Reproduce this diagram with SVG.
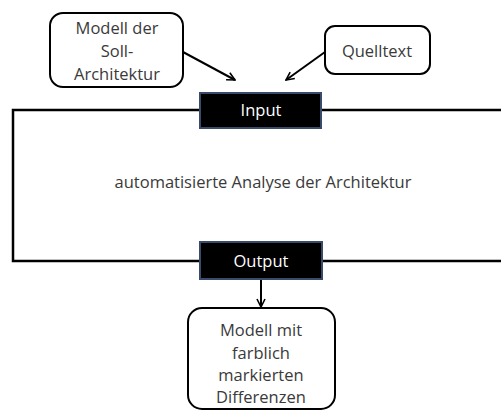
<svg xmlns="http://www.w3.org/2000/svg" width="501" height="414" viewBox="0 0 501 414">
  <style>
    .box { fill: #ffffff; stroke: #000000; stroke-width: 2; }
    .bar { fill: #000000; stroke: #3a4a6a; stroke-width: 2; }
    .txt { font-family: "Open Sans", "Liberation Sans", sans-serif; font-size: 16.5px; fill: #3a3a3a; text-anchor: middle; }
    .lbl { font-family: "Open Sans", "Liberation Sans", sans-serif; font-size: 16.5px; fill: #ffffff; text-anchor: middle; }
    .frame { fill: none; stroke: #000000; stroke-width: 2.5; }
    .conn { fill: none; stroke: #000000; stroke-width: 2; marker-end: url(#arrow); }
  </style>
  <defs>
    <marker id="arrow" viewBox="0 0 10 10" refX="9" refY="5" markerWidth="5" markerHeight="5" orient="auto" markerUnits="strokeWidth">
      <path d="M1,1 L9,5 L1,9" fill="none" stroke="#000000" stroke-width="1.6"/>
    </marker>
  </defs>

  <rect width="501" height="414" fill="#ffffff"/>

  <!-- process frame -->
  <g id="frame">
    <polyline class="frame" points="501,110 13,110 13,261 501,261"/>
    <text class="txt" x="263" y="188">automatisierte Analyse der Architektur</text>
  </g>

  <g id="connectors">
    <line class="conn" x1="183" y1="52" x2="235" y2="80"/>
    <line class="conn" x1="325" y1="52" x2="286" y2="80"/>
    <line class="conn" x1="261" y1="279" x2="261" y2="307"/>
  </g>

  <g id="soll-architektur">
    <rect class="box" x="50" y="13" width="133" height="74" rx="13"/>
    <text class="txt" x="117" y="34">Modell der</text>
    <text class="txt" x="117" y="57">Soll-</text>
    <text class="txt" x="117" y="80">Architektur</text>
  </g>

  <g id="quelltext">
    <rect class="box" x="325" y="26" width="105" height="48" rx="10"/>
    <text class="txt" x="377" y="57">Quelltext</text>
  </g>

  <g id="input">
    <rect class="bar" x="200" y="93" width="121" height="35"/>
    <text class="lbl" x="261" y="116">Input</text>
  </g>

  <g id="output">
    <rect class="bar" x="200" y="242" width="122" height="37"/>
    <text class="lbl" x="261" y="267">Output</text>
  </g>

  <g id="ergebnis">
    <rect class="box" x="188" y="308" width="147" height="101" rx="14"/>
    <text class="txt" x="261" y="336">Modell mit</text>
    <text class="txt" x="261" y="359">farblich</text>
    <text class="txt" x="261" y="381">markierten</text>
    <text class="txt" x="261" y="403">Differenzen</text>
  </g>
</svg>
